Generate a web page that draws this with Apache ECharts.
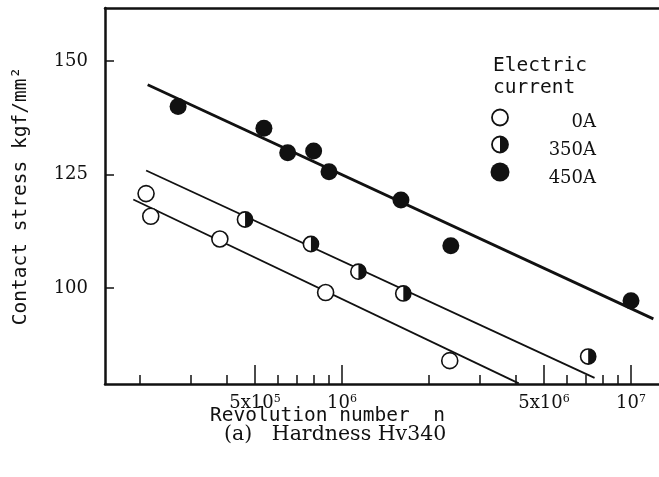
<!DOCTYPE html>
<html>
<head>
<meta charset="utf-8">
<title>Contact stress vs revolution number (Hv340)</title>
<script src="https://cdn.jsdelivr.net/npm/echarts@6/dist/echarts.min.js"></script>
<style>
  html, body { margin: 0; padding: 0; background: #fff; }
  #chart { width: 659px; height: 477px; }
</style>
</head>
<body>
<div id="chart"></div>
<script>
// Fatigue test results: revolution number n vs contact stress (kgf/mm^2)
const current0A = [[2.10e5, 120.8], [2.18e5, 115.8], [3.78e5, 110.8], [8.78e5, 99.0], [2.36e6, 84.0]];
const current350A = [[4.62e5, 115.1], [7.81e5, 109.7], [1.14e6, 103.6], [1.63e6, 98.8], [7.11e6, 84.9]];
const current450A = [[2.71e5, 140.0], [5.37e5, 135.2], [6.49e5, 129.8], [7.98e5, 130.2], [9.02e5, 125.6],
                     [1.60e6, 119.4], [2.38e6, 109.3], [1.0e7, 97.2]];

// Fitted S-N lines (end points)
const fit0A = [[1.897e5, 119.5], [4.09e6, 79.0]];
const fit350A = [[2.101e5, 125.9], [7.48e6, 80.2]];
const fit450A = [[2.127e5, 144.8], [1.195e7, 93.2]];

// Axis ticks and labels
const xMajorTicks = [5e5, 1e6, 5e6, 1e7];
const xMajorLabels = [['5x10', '5'], ['10', '6'], ['5x10', '6'], ['10', '7']];
const xMinorTicks = [2e5, 3e5, 4e5, 5e5, 6e5, 7e5, 8e5, 9e5, 1e6,
                     2e6, 3e6, 4e6, 5e6, 6e6, 7e6, 8e6, 9e6, 1e7];
const yTicks = [100, 125, 150];

const INK = '#111';
const MONO = '"DejaVu Sans Mono", monospace';
const SERIF = '"DejaVu Serif", serif';

const xMin = 1.514e5, xMax = 1.25e7;
const yMin = 78.85, yMax = 161.7;

function xLabel(v) {
  for (let i = 0; i < xMajorTicks.length; i++) {
    if (Math.abs(v - xMajorTicks[i]) / xMajorTicks[i] < 1e-6) {
      return '{m|' + xMajorLabels[i][0] + '}{s|' + xMajorLabels[i][1] + '}';
    }
  }
  return '';
}

const chart = echarts.init(document.getElementById('chart'), null, { renderer: 'canvas' });

const halfMarker = function (params, api) {
  const p = api.coord([api.value(0), api.value(1)]);
  const r = 7.6;
  return {
    type: 'group',
    children: [
      { type: 'circle', shape: { cx: p[0], cy: p[1], r: r },
        style: { fill: '#fff', stroke: INK, lineWidth: 1.6 } },
      { type: 'sector', shape: { cx: p[0], cy: p[1], r0: 0, r: r,
          startAngle: -Math.PI / 2, endAngle: Math.PI / 2, clockwise: true },
        style: { fill: INK } }
    ]
  };
};

const option = {
  animation: false,
  backgroundColor: '#fff',
  grid: { left: 105, right: 0, top: 8, bottom: 93, containLabel: false },
  xAxis: [
    {
      type: 'log', logBase: 10, min: xMin, max: xMax, position: 'bottom',
      axisLine: { show: true, lineStyle: { color: INK, width: 2.5 } },
      axisTick: { show: true, inside: true, length: 9, customValues: xMinorTicks,
                  lineStyle: { color: INK, width: 1.5 } },
      minorTick: { show: false },
      splitLine: { show: false },
      axisLabel: {
        show: true, customValues: xMajorTicks, margin: 10, formatter: xLabel,
        rich: {
          m: { fontFamily: SERIF, fontSize: 18, color: INK, lineHeight: 20, verticalAlign: 'top' },
          s: { fontFamily: SERIF, fontSize: 11, color: INK, lineHeight: 11, verticalAlign: 'top' }
        }
      },
      name: 'Revolution number  n',
      nameLocation: 'middle',
      nameGap: 22,
      nameMoveOverlap: false,
      nameTextStyle: { fontFamily: MONO, fontSize: 19.5, color: INK, padding: [0, 109, 0, 0] }
    },
    {
      type: 'log', logBase: 10, min: xMin, max: xMax, position: 'bottom',
      axisLine: { show: false },
      axisTick: { show: true, inside: true, length: 19, customValues: xMajorTicks,
                  lineStyle: { color: INK, width: 1.5 } },
      axisLabel: { show: false },
      splitLine: { show: false }
    },
    {
      type: 'log', logBase: 10, min: xMin, max: xMax, position: 'top',
      axisLine: { show: true, lineStyle: { color: INK, width: 2.5 } },
      axisTick: { show: false },
      axisLabel: { show: false },
      splitLine: { show: false }
    }
  ],
  yAxis: {
    type: 'value', min: yMin, max: yMax,
    axisLine: { show: true, lineStyle: { color: INK, width: 2.5 } },
    axisTick: { show: true, inside: true, length: 9, customValues: yTicks,
                lineStyle: { color: INK, width: 1.5 } },
    axisLabel: { show: true, customValues: yTicks, margin: 17,
                 fontFamily: SERIF, fontSize: 18, color: INK },
    splitLine: { show: false },
    name: 'Contact stress kgf/mm\u00b2',
    nameLocation: 'middle',
    nameRotate: 90,
    nameGap: 74,
    nameMoveOverlap: false,
    nameTextStyle: { fontFamily: MONO, fontSize: 19.5, color: INK }
  },
  series: [
    { type: 'line', name: 'fit 0A', data: fit0A, showSymbol: false, symbol: 'none',
      lineStyle: { color: INK, width: 1.8 }, silent: true, z: 2 },
    { type: 'line', name: 'fit 350A', data: fit350A, showSymbol: false, symbol: 'none',
      lineStyle: { color: INK, width: 1.8 }, silent: true, z: 2 },
    { type: 'line', name: 'fit 450A', data: fit450A, showSymbol: false, symbol: 'none',
      lineStyle: { color: INK, width: 2.8 }, silent: true, z: 2 },
    { type: 'scatter', name: '0A', data: current0A, symbol: 'circle', symbolSize: 16,
      itemStyle: { color: '#fff', borderColor: INK, borderWidth: 1.6, opacity: 1 }, z: 3 },
    { type: 'custom', name: '350A', data: current350A, renderItem: halfMarker,
      encode: { x: 0, y: 1 }, z: 3 },
    { type: 'scatter', name: '450A', data: current450A, symbol: 'circle', symbolSize: 17,
      itemStyle: { color: INK, opacity: 1 }, z: 3 }
  ],
  graphic: [
    { type: 'text', x: 493, y: 66, style: { text: 'Electric', font: '19.5px ' + MONO, fill: INK, align: 'left', verticalAlign: 'middle' } },
    { type: 'text', x: 493, y: 88, style: { text: 'current', font: '19.5px ' + MONO, fill: INK, align: 'left', verticalAlign: 'middle' } },
    { type: 'circle', shape: { cx: 500, cy: 117.5, r: 8 }, style: { fill: '#fff', stroke: INK, lineWidth: 1.8 } },
    { type: 'circle', shape: { cx: 500, cy: 144.5, r: 8 }, style: { fill: '#fff', stroke: INK, lineWidth: 1.8 } },
    { type: 'sector', shape: { cx: 500, cy: 144.5, r0: 0, r: 8, startAngle: -Math.PI / 2, endAngle: Math.PI / 2, clockwise: true }, style: { fill: INK } },
    { type: 'circle', shape: { cx: 500, cy: 172, r: 9.5 }, style: { fill: INK } },
    { type: 'text', x: 596, y: 122, style: { text: '0A', font: '18px ' + SERIF, fill: INK, align: 'right', verticalAlign: 'middle' } },
    { type: 'text', x: 596, y: 150, style: { text: '350A', font: '18px ' + SERIF, fill: INK, align: 'right', verticalAlign: 'middle' } },
    { type: 'text', x: 596, y: 178, style: { text: '450A', font: '18px ' + SERIF, fill: INK, align: 'right', verticalAlign: 'middle' } },
    { type: 'text', x: 224, y: 435, style: { text: '(a)   Hardness Hv340', font: '20.5px ' + SERIF, fill: INK, align: 'left', verticalAlign: 'middle' } }
  ]
};

chart.setOption(option);
</script>
</body>
</html>
